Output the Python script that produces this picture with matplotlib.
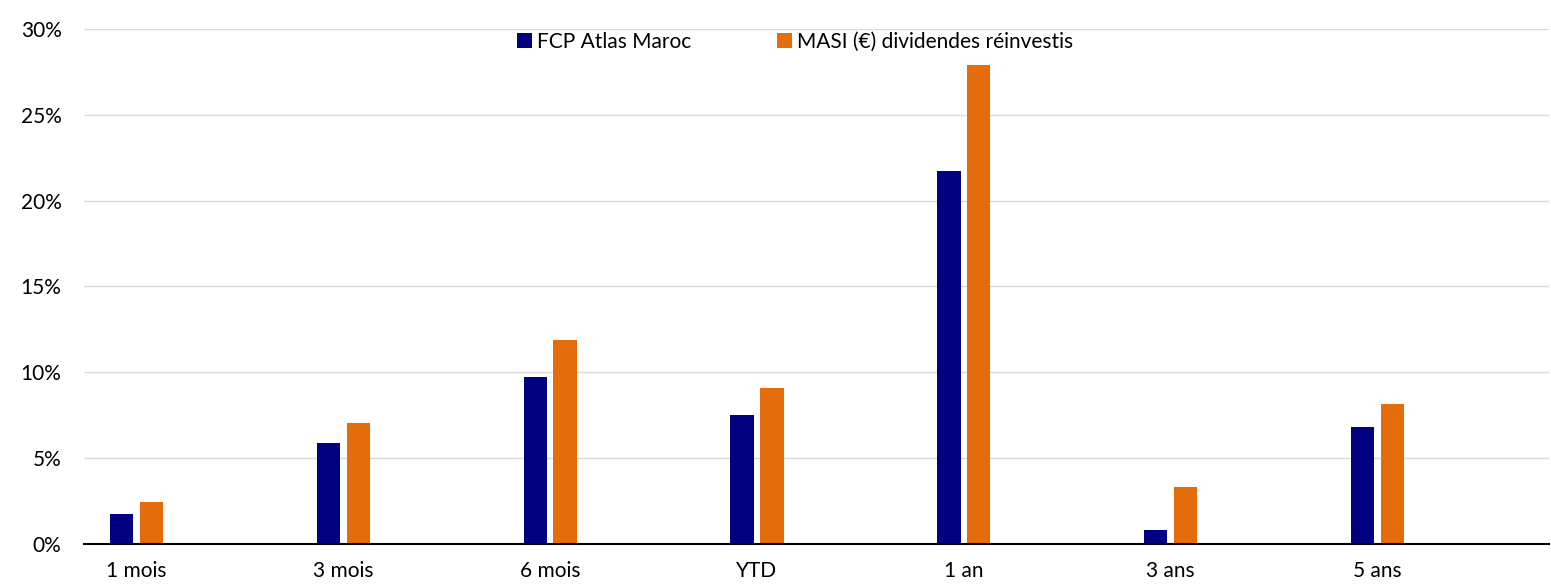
import matplotlib.pyplot as plt
import numpy as np
from matplotlib.ticker import FuncFormatter

plt.rcParams['font.family'] = ['Lato', 'DejaVu Sans']

# data
categories = ["1 mois", "3 mois", "6 mois", "YTD", "1 an", "3 ans", "5 ans"]
fcp = [1.75, 5.9, 9.7, 7.5, 21.7, 0.8, 6.8]
masi = [2.45, 7.05, 11.9, 9.1, 27.9, 3.3, 8.15]

fig = plt.figure(figsize=(15.51, 5.86), dpi=100)
ax = fig.add_axes([0.054, 0.0717, 0.9447, 0.8788])

x = np.arange(len(categories))
w = 0.113
ax.bar(x - 0.072, fcp, w, color="#000080", label="FCP Atlas Maroc", zorder=3)
ax.bar(x + 0.072, masi, w, color="#E46C0A", label="MASI (€) dividendes réinvestis", zorder=3)

ax.set_xlim(-0.256, 6.83)
ax.set_ylim(0, 30)
ax.set_yticks(np.arange(0, 31, 5))
ax.yaxis.set_major_formatter(FuncFormatter(lambda v, p: f"{v:.0f}%"))
ax.set_xticks(x)
ax.set_xticklabels(categories)
ax.tick_params(axis='both', length=0, labelsize=15, colors="#000000")
ax.tick_params(axis='x', pad=12)
ax.tick_params(axis='y', pad=16)
ax.grid(axis='y', color="#d9d9d9", linewidth=1, zorder=0)
for s in ["top", "right", "left"]:
    ax.spines[s].set_visible(False)
ax.spines["bottom"].set_color("black")
ax.spines["bottom"].set_linewidth(1.5)
ax.spines["bottom"].set_zorder(4)

ax.legend(loc="center", bbox_to_anchor=(0.4853, 0.975), ncol=2, frameon=False,
          fontsize=15, handlelength=0.72, handleheight=0.72, handletextpad=0.25,
          columnspacing=4.1, borderaxespad=0, borderpad=0)

fig.savefig("out.png", dpi=100)
